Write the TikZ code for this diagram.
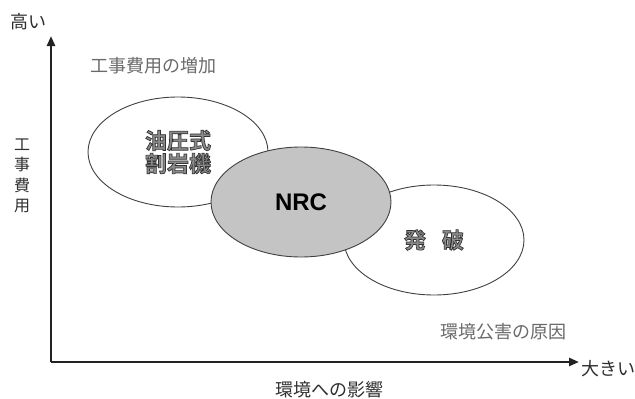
\documentclass[tikz,border=0pt]{standalone}
\usepackage{fontspec}
\setmainfont{Liberation Sans}
\newfontfamily\cjk{Noto Sans CJK JP}
\newfontfamily\cjkb{Noto Sans CJK JP Bold}
\usetikzlibrary{shapes.geometric,arrows.meta}
\definecolor{axiscol}{HTML}{222222}
\definecolor{labcol}{HTML}{2E2E2E}
\definecolor{lightlab}{HTML}{6A6A6A}
\definecolor{edgecol}{HTML}{404040}
\definecolor{nrcfill}{HTML}{C4C4C4}
\definecolor{bodytext}{HTML}{8A8A8A}
\newcommand{\outl}[1]{\special{pdf:literal direct 2 Tr 0.7 w 0.2 0.2 0.2 RG}#1\special{pdf:literal direct 0 Tr}}
\tikzset{
  axisline/.style={line width=2.6pt, draw=axiscol, -{Triangle[length=10pt,width=8pt]}},
  axislab/.style={text=labcol, font=\cjk\fontsize{18}{20.5}\selectfont, inner sep=0pt},
  notelab/.style={text=lightlab, font=\cjk\fontsize{18}{20}\selectfont, inner sep=0pt, anchor=west},
  blob/.style={ellipse, draw=edgecol, line width=0.9pt, fill=white, minimum width=180pt, minimum height=110pt, inner sep=0pt, align=center},
  blobtext/.style={text=bodytext, font=\cjkb\fontsize{22}{23}\selectfont}
}
\begin{document}
\begin{tikzpicture}[x=1pt,y=-1pt]
\useasboundingbox (0,0) rectangle (635,399);
\coordinate (o) at (51,362);
\coordinate (ytip) at (51,36);
\coordinate (xtip) at (579,362);
\draw[axisline] (o) -- (ytip);
\draw[axisline] (o) -- (xtip);
\node[axislab] (high) at (28,22) {高い};
\node[axislab] (big) at (608,369) {大きい};
\node[axislab] (xlab) at (329,390) {環境への影響};
\node[axislab, align=center, font=\cjk\fontsize{16}{20.5}\selectfont] (ylab) at (22,176) {工\\事\\費\\用};
\node[notelab] (cost) at (90,66) {工事費用の増加};
\node[notelab] (env) at (440,332) {環境公害の原因};
\node[blob, blobtext] (hyd) at (178,152) {\outl{油圧式}\\\outl{割岩機}};
\node[blob, blobtext] (blast) at (434,240) {\outl{発}\hspace{16pt}\outl{破}};
\node[blob, fill=nrcfill, font=\bfseries\fontsize{24}{28}\selectfont, text=black] (nrc) at (301,202) {NRC};
\end{tikzpicture}
\end{document}
